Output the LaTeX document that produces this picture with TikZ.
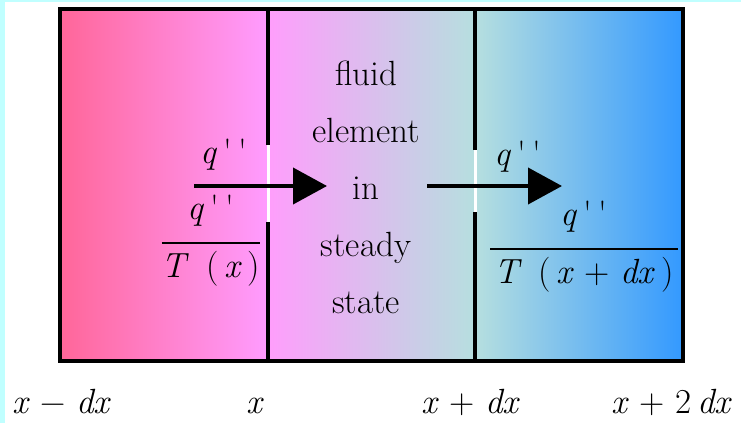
\documentclass[tikz,border=0pt]{standalone}
\usepackage{fontspec}
\setmainfont{Latin Modern Roman}
\usepackage{xcolor}
\usetikzlibrary{arrows.meta,positioning}
\definecolor{hotpink}{HTML}{FF6699}
\definecolor{lilac}{HTML}{FF9CFF}
\definecolor{mist}{HTML}{B6DFDF}
\definecolor{sky}{HTML}{3399FF}
\definecolor{edge}{HTML}{C0FFFF}
\setlength{\arrayrulewidth}{1.6pt}
\newcommand{\qpp}{\textit{q}\,\textquotesingle\,\textquotesingle}
\newcommand{\fracbox}[3]{{\renewcommand{\arraystretch}{0}%
  \begin{tabular}[t]{@{}c@{}}\rule[-23pt]{0pt}{1pt}\makebox[#1]{#2}\\\hline
  \rule{0pt}{34pt}#3\end{tabular}}}
\tikzset{%
  % pieces
  frame/.style={draw, line width=4.5pt},
  wall/.style={line width=3.5pt},
  gap/.style={line width=3pt, white},
  flux/.style={-{Triangle[length=34pt,width=36pt]}, line width=4pt},
  % text
  lbl/.style={font=\fontsize{35}{57}\selectfont, inner sep=0pt},
  frac/.style={lbl, anchor=base},
}
\begin{document}
\begin{tikzpicture}[x=1pt, y=-1pt]
  \useasboundingbox (0,0) rectangle (741,423);
  \fill[edge] (0,0) rectangle (5,423);
  \fill[edge] (0,0) rectangle (741,2);

  % three slabs
  \shade[left color=hotpink, right color=lilac] (60,9) rectangle (268,361);
  \shade[left color=lilac!95!pink, right color=mist] (268,9) rectangle (475,361);
  \shade[left color=mist, right color=sky] (475,9) rectangle (683,361);
  \draw[frame] (60,9) rectangle (683,361);

  % walls with openings
  \draw[wall] (268,9) -- (268,145);
  \draw[gap] (268,145) -- (268,222);
  \draw[wall] (268,222) -- (268,361);
  \draw[wall] (475,9) -- (475,150);
  \draw[gap] (475,150) -- (475,212);
  \draw[wall] (475,212) -- (475,361);

  \coordinate (inA) at (194,186);
  \coordinate (inB) at (327,186);
  \coordinate (outA) at (427,186);
  \coordinate (outB) at (562,186);
  \draw[flux] (inA) -- (inB);
  \draw[flux] (outA) -- (outB);

  \node[frac] (qin) at (224,163) {\qpp};
  \node[frac] (qout) at (518,165) {\qpp};
  \node[frac] (fin) at (211,219)
    {\fracbox{97pt}{\qpp}{\textit{T}\, (\,\textit{x}\,)}};
  \node[frac] (fout) at (584,225)
    {\fracbox{188pt}{\qpp}{\textit{T}\, (\,\textit{x} + \textit{dx}\,)}};

  \node[lbl, align=center] (elem) at (366,187)
    {fluid\\element\\in\\steady\\state};

  % positions along x
  \node[frac] (xm) at (62,413) {\textit{x} − \textit{dx}};
  \node[frac] (x0) at (255,413) {\textit{x}};
  \node[frac] (xp) at (471,413) {\textit{x} + \textit{dx}};
  \node[frac] (xpp) at (672,413) {\textit{x} + 2\,\textit{dx}};
\end{tikzpicture}
\end{document}
